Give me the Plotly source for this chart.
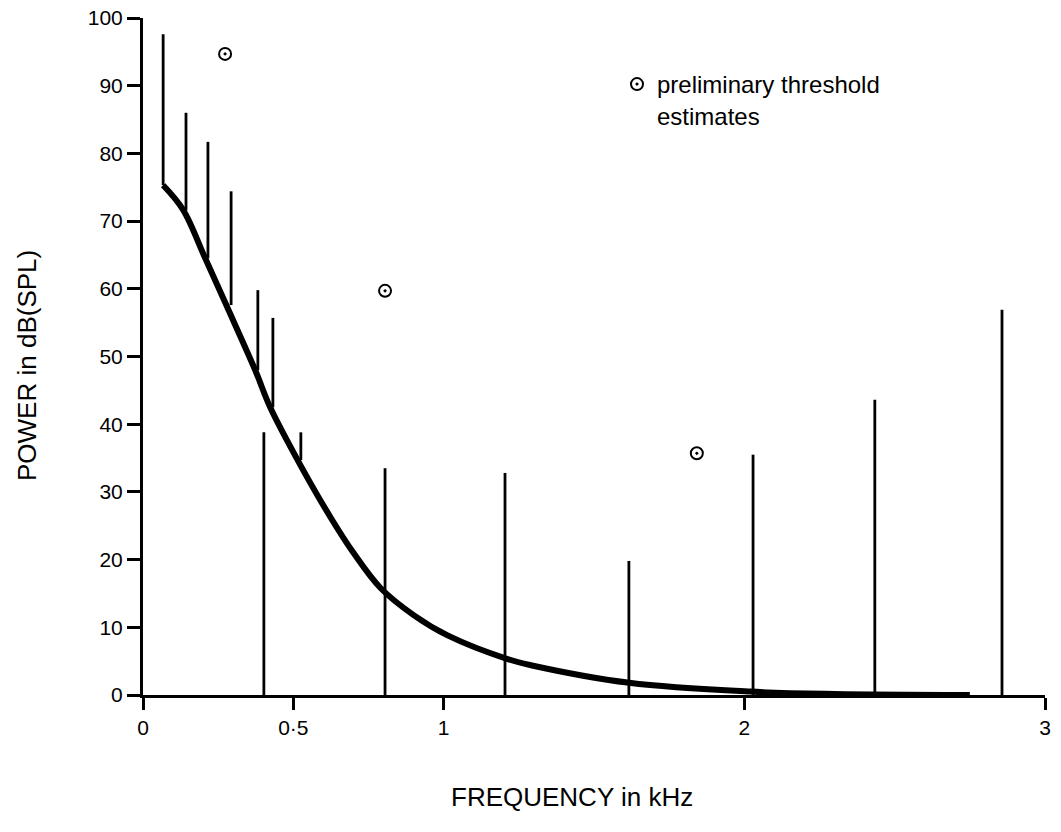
import plotly.graph_objects as go

# Smooth threshold curve (kHz, dB SPL)
curve_f = [0.067, 0.133, 0.207, 0.28, 0.373, 0.423, 0.523, 0.623, 0.70, 0.79, 0.90, 1.013, 1.213, 1.29, 1.617, 2.02, 2.30, 2.75]
curve_db = [75.3, 71.7, 64.5, 57.3, 48.0, 42.5, 34.0, 26.3, 21.0, 15.8, 11.8, 8.8, 5.3, 4.4, 1.8, 0.5, 0.15, 0.0]

# Spectral lines: frequency, base level, top level
spike_f = [0.067, 0.143, 0.216, 0.293, 0.382, 0.432, 0.525, 0.402, 0.805, 1.204, 1.616, 2.029, 2.434, 2.857]
spike_base = [75.3, 71.6, 64.5, 57.6, 48.0, 42.5, 34.7, 0, 0, 0, 0, 0, 0, 0]
spike_top = [97.6, 86.0, 81.7, 74.4, 59.8, 55.7, 38.8, 38.8, 33.5, 32.8, 19.8, 35.5, 43.6, 56.9]

# Preliminary threshold estimates
thr_f = [0.273, 0.805, 1.842]
thr_db = [94.7, 59.7, 35.7]

x_tickvals = [0, 0.5, 1, 2, 3]
x_ticktext = ["0", "0·5", "1", "2", "3"]
y_tickvals = [0, 10, 20, 30, 40, 50, 60, 70, 80, 90, 100]

FONT = "Liberation Sans, Arial, Helvetica, sans-serif"

sx, sy = [], []
for f, b, t in zip(spike_f, spike_base, spike_top):
    sx += [f, f, None]
    sy += [b, t, None]

fig = go.Figure()
fig.add_trace(go.Scatter(x=sx, y=sy, mode="lines", line=dict(color="black", width=2.8),
                         showlegend=False, hoverinfo="skip"))
fig.add_trace(go.Scatter(x=curve_f, y=curve_db, mode="lines",
                         line=dict(color="black", width=6, shape="spline", smoothing=1.0),
                         showlegend=False, cliponaxis=False))
fig.add_trace(go.Scatter(x=thr_f, y=thr_db, mode="markers",
                         marker=dict(symbol="circle-dot", size=12, color="white",
                                     line=dict(color="black", width=2)),
                         name="preliminary threshold<br>estimates", showlegend=True))

fig.update_layout(
    width=1061, height=832,
    margin=dict(l=143, r=16, t=18, b=137, autoexpand=False),
    paper_bgcolor="white", plot_bgcolor="white",
    font=dict(family=FONT, color="black", size=21),
    legend=dict(x=0.5255, y=0.935, xanchor="left", yanchor="top", valign="top",
                font=dict(size=24, family=FONT), bgcolor="rgba(0,0,0,0)",
                itemwidth=30, tracegroupgap=0),
    xaxis=dict(range=[0, 3], showgrid=False, zeroline=False, showline=True,
               linecolor="black", linewidth=3, ticks="outside", ticklen=12,
               tickwidth=2.5, tickcolor="black", tickvals=x_tickvals,
               ticktext=x_ticktext, tickfont=dict(size=21), automargin=False,
               ticklabeloverflow="allow"),
    yaxis=dict(range=[0, 100], showgrid=False, zeroline=False, showline=True,
               linecolor="black", linewidth=3, ticks="outside", ticklen=13,
               tickwidth=2.5, tickcolor="black", tickvals=y_tickvals,
               tickfont=dict(size=21), automargin=False,
               ticklabeloverflow="allow"),
    annotations=[
        dict(text="FREQUENCY in kHz", xref="paper", yref="paper", x=0.4756, y=-0.1507,
             xanchor="center", yanchor="middle", showarrow=False, font=dict(size=26)),
        dict(text="POWER in dB(SPL)", xref="paper", yref="paper", x=-0.1286, y=0.486,
             xanchor="center", yanchor="middle", textangle=-90, showarrow=False,
             font=dict(size=26)),
    ],
)

fig.write_html("out.html", config={"displayModeBar": False},
               post_script="document.body.style.margin='0px';")
